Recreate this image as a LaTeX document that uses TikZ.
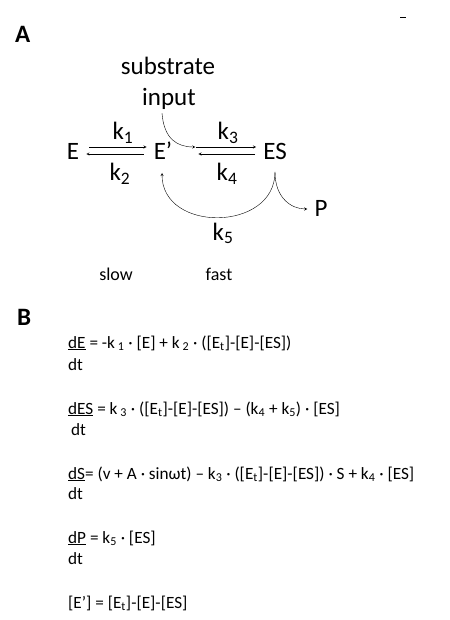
\documentclass[tikz,border=0pt]{standalone}
\usepackage{fontspec}
\setmainfont{Carlito}
\begin{document}
\begin{tikzpicture}[x=1pt,y=-1pt,>=stealth,
  big/.style={font=\fontsize{25}{27}\selectfont,inner sep=0pt,anchor=base},
  small/.style={font=\fontsize{18}{20}\selectfont,inner sep=0pt,anchor=base},
  panel/.style={font=\fontsize{25}{27}\selectfont\bfseries,inner sep=0pt,anchor=base west},
  eq/.style={font=\fontsize{17.2}{19}\selectfont,inner sep=0pt,anchor=base west}]
\useasboundingbox (0,0) rectangle (449,620);
\draw[line width=1pt](400,18)--(406,18);%小さな印
% A: 反応図
\node[panel] (labA) at (15,43) {A};
\node[big] (sub) at (168,75) {substrate};
\node[big] (inp) at (169,106) {input};
\node[big] (E) at (73,160) {E};
\node[big] (Ep) at (163,160) {E’};
\node[big] (ES) at (275,160) {ES};
\node[big] (P) at (321,216) {P};
\node[big] (k1) at (123,140) {k\textsubscript{1}};
\node[big] (k2) at (120,181) {k\textsubscript{2}};
\node[big] (k3) at (228,140) {k\textsubscript{3}};
\node[big] (k4) at (227,181) {k\textsubscript{4}};
\node[big] (k5) at (223,240) {k\textsubscript{5}};
\node[small] (slow) at (116,280) {slow};
\node[small] (fast) at (219,280) {fast};
\coordinate (k3s) at ([xshift=24pt,yshift=13pt]Ep.base east);
\draw[->](E.base east)++(10pt,13pt)--([xshift=-7pt,yshift=13pt]Ep.base west);%k1
\draw[->]([xshift=-10pt,yshift=6pt]Ep.base west)--([xshift=7pt,yshift=6pt]E.base east);%k2
\draw[->](k3s)--([xshift=-7pt,yshift=13pt]ES.base west);%k3
\draw[->]([xshift=-8pt,yshift=6pt]ES.base west)--([xshift=26pt,yshift=6pt]Ep.base east);%k4
\draw[->]([xshift=-7pt,yshift=-3pt]inp.south) .. controls +(2,26) and +(-18,0) .. ([xshift=-1pt]k3s);%基質
\draw[->]([yshift=-12pt]ES.base) .. controls +(0,60) and +(0,60) .. ([xshift=-1pt,yshift=-13pt]Ep.base);%k5
\draw[->]([yshift=-12pt]ES.base) .. controls +(0,26) and +(-16,0) .. ([xshift=-7pt,yshift=7pt]P.base west);%P
% B: 式
\node[panel] (labB) at (17,325) {B};
\node[eq] (eq1) at (68,348) {\underline{dE} = -k\,\textsubscript{1} · [E] + k\,\textsubscript{2} · ([E\textsubscript{t}]-[E]-[ES])};
\node[eq] (dt1) at (68,370) {dt};
\node[eq] (eq2) at (68,414) {\underline{dES} = k\,\textsubscript{3} · ([E\textsubscript{t}]-[E]-[ES]) – (k\textsubscript{4} + k\textsubscript{5}) · [ES]};
\node[eq] (dt2) at (71,435) {dt};
\node[eq] (eq3) at (68,479) {\underline{dS}= (v + A · sinωt) – k\textsubscript{3} · ([E\textsubscript{t}]-[E]-[ES]) · S + k\textsubscript{4} · [ES]};
\node[eq] (dt3) at (68,499) {dt};
\node[eq] (eq4) at (68,543) {\underline{dP} = k\textsubscript{5} · [ES]};
\node[eq] (dt4) at (68,564) {dt};
\node[eq] (eq5) at (68,608) {[E’] = [E\textsubscript{t}]-[E]-[ES]};
\end{tikzpicture}
\end{document}
